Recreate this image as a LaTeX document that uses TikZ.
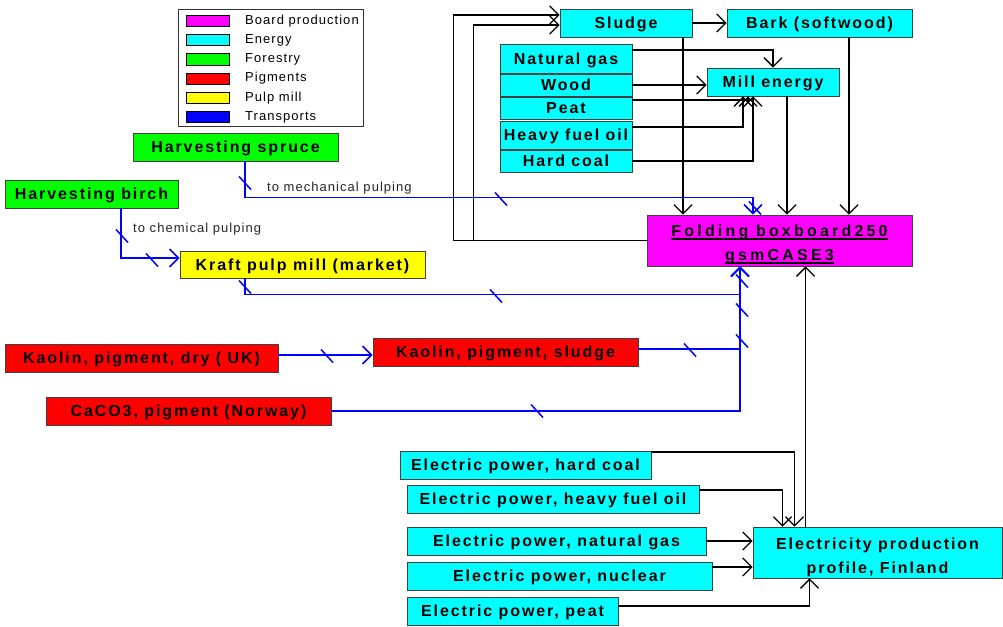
\documentclass[tikz,border=0pt]{standalone}
\usepackage{fontspec}
\setmainfont{Liberation Sans}
\newfontfamily\boxfont[LetterSpace=12]{Liberation Sans}
\newfontfamily\boardfont[LetterSpace=20]{Liberation Sans}
\newfontfamily\legfont[LetterSpace=8]{Liberation Sans}
\usetikzlibrary{arrows.meta}
\definecolor{boardc}{RGB}{255,0,255}
\definecolor{energyc}{RGB}{0,255,255}
\definecolor{forestc}{RGB}{0,255,0}
\definecolor{pigc}{RGB}{255,0,0}
\definecolor{pulpc}{RGB}{255,255,0}
\definecolor{transc}{RGB}{0,0,255}
\newcommand\bul[1]{\setbox0\hbox{#1}\leavevmode\rlap{\rule[-3.5pt]{\wd0}{1.6pt}}\box0}

\begin{document}
\begin{tikzpicture}[x=1pt, y=-1pt,
    box/.style={draw=black!75, line width=0.8pt, inner sep=0pt, minimum height=28pt,
                text height=11.5pt, text depth=0pt,
                font=\boxfont\bfseries\fontsize{16}{20}\selectfont},
    twoline/.style={minimum height=51pt, align=center, text height=39pt, text depth=0pt},
    swatch/.style={draw=black, line width=0.8pt, minimum width=43pt, minimum height=11pt, inner sep=0pt},
    leglabel/.style={anchor=west, inner sep=0pt, font=\legfont\fontsize{13}{15}\selectfont},
    flow/.style={draw=black, line width=1.3pt, -{Straight Barb[length=9pt,width=18pt]}},
    transport/.style={draw=transc, line width=1.5pt, -{Straight Barb[length=9pt,width=18pt]}},
    tickmark/.style={draw=transc, line width=1.5pt}]
    \useasboundingbox (0,0) rectangle (1003,626);

    % legend
    \node [draw=black!80, line width=0.8pt, minimum width=185pt, minimum height=117pt, inner sep=0pt] (legend frame) at (270.5,67.5) {};
    \foreach \col/\txt [count=\i] in {boardc/Board production, energyc/Energy, forestc/Forestry,
                                      pigc/Pigments, pulpc/Pulp mill, transc/Transports} {
        \node [swatch, fill=\col] (legend \i) at (207.5,{21+19.2*(\i-1)}) {};
        \node [leglabel] (legend label \i) at (245,{21+19.2*(\i-1)}) {\txt};
    }

    \node [box, fill=energyc, minimum width=132pt] (sludge) at (626,23) {Sludge};
    \node [box, fill=energyc, minimum width=185pt] (bark) at (819.5,23) {Bark (softwood)};
    \node [box, fill=energyc, minimum width=132pt, minimum height=29pt] (ngas) at (566,58.5) {Natural gas};
    \node [box, fill=energyc, minimum width=132pt, minimum height=22pt] (wood) at (566,85) {Wood};
    \node [box, fill=energyc, minimum width=132pt, minimum height=22pt] (peat) at (566,108) {Peat};
    \node [box, fill=energyc, minimum width=132pt] (hfo) at (566,135) {Heavy fuel oil};
    \node [box, fill=energyc, minimum width=132pt, minimum height=22pt] (coal) at (566,161) {Hard coal};
    \node [box, fill=energyc, minimum width=132pt] (mill) at (773,82) {Mill energy};

    \node [box, fill=forestc, minimum width=205pt] (spruce) at (235.5,147) {Harvesting spruce};
    \node [box, fill=forestc, minimum width=173pt] (birch) at (91.5,194) {Harvesting birch};
    \node [box, fill=pulpc, minimum width=245pt, minimum height=27pt] (kraft) at (302.5,264.5) {Kraft pulp mill (market)};
    \node [box, twoline, fill=boardc, minimum width=265pt,
           font=\boardfont\bfseries\fontsize{16}{24}\selectfont] (board) at (779.5,240.5)
           {\bul{Folding boxboard250}\\\bul{gsmCASE3}};

    \node [box, fill=pigc, minimum width=273pt] (kdry) at (141.5,358) {Kaolin, pigment, dry ( UK)};
    \node [box, fill=pigc, minimum width=265pt] (ksludge) at (505.5,352) {Kaolin, pigment, sludge};
    \node [box, fill=pigc, minimum width=285pt] (caco3) at (188.5,411) {CaCO3, pigment (Norway)};

    \node [box, fill=energyc, minimum width=251pt] (epcoal) at (525.5,465) {Electric power, hard coal};
    \node [box, fill=energyc, minimum width=292pt] (ephfo) at (553,499) {Electric power, heavy fuel oil};
    \node [box, fill=energyc, minimum width=299pt] (epgas) at (556.5,541) {Electric power, natural gas};
    \node [box, fill=energyc, minimum width=305pt] (epnuc) at (559.5,576) {Electric power, nuclear};
    \node [box, fill=energyc, minimum width=211pt] (eppeat) at (512.5,611) {Electric power, peat};
    \node [box, twoline, fill=energyc, minimum width=249pt, text height=41pt,
           font=\boxfont\bfseries\fontsize{16}{24}\selectfont] (elprof) at (877.5,552.5)
           {Electricity production\\profile, Finland};

    \node [leglabel, text=black!85] (mech label) at (267,188) {to mechanical pulping};
    \node [leglabel, text=black!85] (chem label) at (133,229) {to chemical pulping};

    % connection points
    \coordinate (sludge in 1) at ([yshift=8pt]sludge.west);
    \coordinate (sludge in 2) at ([yshift=-2pt]sludge.west);
    \coordinate (sludge out) at ([xshift=57pt]sludge.south);
    \coordinate (bark out) at ([xshift=29.5pt]bark.south);
    \coordinate (mill out) at ([xshift=14pt]mill.south);
    \coordinate (gas out) at ([yshift=8.5pt]ngas.east);
    \coordinate (peat out) at ([yshift=8pt]peat.east);
    \coordinate (hfo out) at ([yshift=8pt]hfo.east);
    \coordinate (epcoal out) at ([yshift=13pt]epcoal.east);
    \coordinate (ephfo out) at ([yshift=9pt]ephfo.east);
    \coordinate (epnuc out) at ([yshift=9pt]epnuc.east);
    \coordinate (eppeat out) at ([yshift=5pt]eppeat.east);
    \coordinate (elprof out) at ([xshift=-72pt]elprof.north);
    \coordinate (spruce out) at ([xshift=9.5pt]spruce.south);
    \coordinate (birch out) at ([xshift=29.5pt]birch.south);
    \coordinate (kraft out) at ([xshift=-57.5pt]kraft.south);
    \coordinate (ksludge out) at ([yshift=3pt]ksludge.east);
    \coordinate (kdry out) at ([yshift=3pt]kdry.east);
    \coordinate (board in 1) at ([xshift=-26.5pt]board.north);
    \coordinate (board in 2) at ([xshift=-39.5pt]board.south);

    \draw [flow] (sludge) -- (bark);
    \draw [flow] (board.west) -| ([xshift=-106pt]sludge in 1) -- (sludge in 1);
    \draw [flow] (board.west) -| ([xshift=-86pt]sludge in 2) -- (sludge in 2);
    \draw [flow] (sludge out) -- (sludge out |- board.north);
    \draw [flow] (bark out) -- (bark out |- board.north);
    \draw [flow] (mill out) -- (mill out |- board.north);
    \draw [flow] (gas out) -| (mill.north);
    \draw [flow] (wood.east) -- (wood.east -| mill.west);
    \draw [flow] (peat out) -| ([xshift=-25pt]mill.south);
    \draw [flow] (hfo out) -| ([xshift=-30pt]mill.south);
    \draw [flow] (coal.east) -| ([xshift=-20pt]mill.south);

    \draw [flow] (epcoal out) -| ([xshift=-83pt]elprof.north);
    \draw [flow] (ephfo out) -| ([xshift=-95pt]elprof.north);
    \draw [flow] (epgas.east) -- (epgas.east -| elprof.west);
    \draw [flow] (epnuc out) -- (epnuc out -| elprof.west);
    \draw [flow] (eppeat out) -| ([xshift=-68pt]elprof.south);
    \draw [flow] (elprof out) -- (elprof out |- board.south);

    \draw [transport] (spruce out) |- ([yshift=17pt]board in 1) -- (board in 1);
    \draw [transport] (birch out) |- ([yshift=6.5pt]kraft.west);
    \draw [transport] (kraft out) |- ([yshift=-28pt]board in 2) -- (board in 2);
    \draw [transport] (ksludge out) -| (board in 2);
    \draw [transport] (caco3.east) -| (board in 2);
    \draw [transport] (kdry out) -- (kdry out -| ksludge.west);

    \foreach \tx/\ty in {245/183, 501/199, 755/208, 122/236, 152/260, 245/287, 496/296,
                         742/281, 742/310, 742/341, 690/350, 537/411, 327/356}
        \draw [tickmark] (\tx-6,\ty-6.5) -- (\tx+6,\ty+6.5);
\end{tikzpicture}
\end{document}
